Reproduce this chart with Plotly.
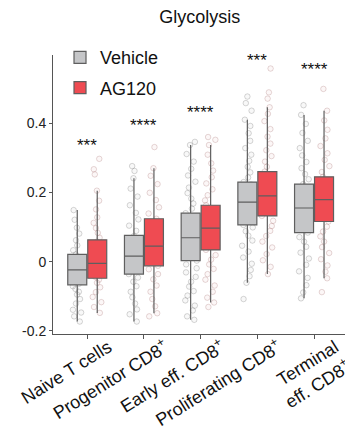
import plotly.graph_objects as go

categories = ["Naive T cells", "Progenitor CD8<sup>+</sup>", "Early eff. CD8<sup>+</sup>",
              "Proliferating CD8<sup>+</sup>", "Terminal<br>eff. CD8<sup>+</sup>"]
series_names = ["Vehicle", "AG120"]

# box statistics
veh_q1 = [-0.067, -0.036, 0.003, 0.106, 0.084]
veh_median = [-0.024, 0.016, 0.069, 0.172, 0.155]
veh_q3 = [0.021, 0.076, 0.140, 0.230, 0.224]
veh_low = [-0.173, -0.173, -0.168, -0.061, -0.106]
veh_high = [0.149, 0.241, 0.337, 0.410, 0.424]

ag_q1 = [-0.048, -0.012, 0.034, 0.132, 0.116]
ag_median = [-0.005, 0.045, 0.097, 0.190, 0.179]
ag_q3 = [0.063, 0.124, 0.163, 0.260, 0.245]
ag_low = [-0.148, -0.149, -0.118, -0.036, -0.048]
ag_high = [0.205, 0.270, 0.337, 0.446, 0.436]

# individual cells
naive_veh_pts = [-0.173, -0.158, -0.147, -0.139, -0.121, -0.108, -0.095, -0.087, -0.079, -0.071,
                 -0.064, -0.058, -0.049, -0.041, -0.035, -0.028, -0.022, -0.016, -0.009, -0.002,
                 0.006, 0.014, 0.021, 0.033, 0.047, 0.062, 0.081, 0.098, 0.121, 0.149]
naive_ag_pts = [-0.148, -0.131, -0.117, -0.102, -0.088, -0.074, -0.061, -0.052, -0.044, -0.036,
                -0.027, -0.018, -0.011, -0.004, 0.004, 0.013, 0.024, 0.035, 0.046, 0.058,
                0.069, 0.083, 0.097, 0.112, 0.128, 0.151, 0.176, 0.205, 0.252, 0.267, 0.297]
prog_veh_pts = [-0.173, -0.152, -0.138, -0.121, -0.103, -0.087, -0.071, -0.058, -0.046, -0.036,
                -0.027, -0.015, -0.004, 0.005, 0.012, 0.019, 0.028, 0.039, 0.051, 0.063,
                0.074, 0.089, 0.104, 0.122, 0.141, 0.163, 0.188, 0.211, 0.241, 0.262, 0.276]
prog_ag_pts = [-0.158, -0.149, -0.129, -0.108, -0.087, -0.069, -0.051, -0.036, -0.022, -0.012,
               -0.001, 0.011, 0.024, 0.036, 0.045, 0.056, 0.071, 0.086, 0.101, 0.114,
               0.124, 0.139, 0.157, 0.178, 0.199, 0.224, 0.248, 0.270, 0.331]
early_veh_pts = [-0.168, -0.158, -0.141, -0.127, -0.112, -0.098, -0.085, -0.072, -0.058, -0.044,
                 -0.031, -0.019, -0.008, 0.003, 0.014, 0.026, 0.038, 0.049, 0.058, 0.066,
                 0.073, 0.082, 0.093, 0.105, 0.117, 0.129, 0.140, 0.153, 0.168, 0.182,
                 0.198, 0.214, 0.231, 0.249, 0.268, 0.289, 0.311, 0.337, 0.346]
early_ag_pts = [-0.131, -0.118, -0.104, -0.087, -0.069, -0.052, -0.036, -0.021, -0.008, 0.006,
                0.019, 0.034, 0.046, 0.058, 0.071, 0.083, 0.091, 0.097, 0.106, 0.118,
                0.131, 0.143, 0.154, 0.163, 0.177, 0.192, 0.209, 0.226, 0.244, 0.263,
                0.284, 0.309, 0.337, 0.352, 0.360]
prolif_veh_pts = [-0.108, -0.061, -0.042, -0.024, -0.006, 0.012, 0.029, 0.046, 0.061, 0.075,
                  0.088, 0.099, 0.106, 0.118, 0.131, 0.143, 0.154, 0.163, 0.172, 0.181,
                  0.192, 0.203, 0.214, 0.223, 0.230, 0.243, 0.258, 0.274, 0.291, 0.309,
                  0.328, 0.349, 0.371, 0.392, 0.410, 0.436, 0.458, 0.477]
prolif_ag_pts = [-0.036, -0.015, 0.004, 0.022, 0.041, 0.058, 0.074, 0.089, 0.103, 0.118,
                 0.132, 0.144, 0.156, 0.167, 0.179, 0.190, 0.201, 0.213, 0.226, 0.239,
                 0.251, 0.260, 0.274, 0.289, 0.305, 0.322, 0.341, 0.361, 0.383, 0.406,
                 0.427, 0.446, 0.471, 0.489, 0.558]
term_veh_pts = [-0.106, -0.089, -0.068, -0.047, -0.028, -0.009, 0.009, 0.026, 0.043, 0.058,
                0.071, 0.084, 0.097, 0.111, 0.124, 0.136, 0.147, 0.155, 0.164, 0.176,
                0.189, 0.201, 0.213, 0.224, 0.238, 0.253, 0.270, 0.288, 0.307, 0.328,
                0.349, 0.372, 0.398, 0.424, 0.452]
term_ag_pts = [-0.088, -0.048, -0.029, -0.011, 0.007, 0.025, 0.042, 0.058, 0.073, 0.087,
               0.101, 0.116, 0.128, 0.141, 0.153, 0.166, 0.179, 0.190, 0.203, 0.216,
               0.229, 0.245, 0.259, 0.276, 0.294, 0.313, 0.334, 0.356, 0.381, 0.408,
               0.436, 0.499]

sig_labels = ["***", "****", "****", "***", "****"]
sig_y = [0.337, 0.392, 0.430, 0.580, 0.554]

veh_points = [naive_veh_pts, prog_veh_pts, early_veh_pts, prolif_veh_pts, term_veh_pts]
ag_points = [naive_ag_pts, prog_ag_pts, early_ag_pts, prolif_ag_pts, term_ag_pts]

FONT = "Liberation Sans, Arial, Helvetica, sans-serif"
fig = go.Figure()


def pts_trace(groups, group_id, line_col, fill_col):
    xs, ys = [], []
    for cat, vals in zip(categories, groups):
        xs += [cat] * len(vals)
        ys += vals
    return go.Box(x=xs, y=ys, offsetgroup=group_id, boxpoints="all", jitter=0.7, pointpos=0,
                  line=dict(width=0), fillcolor="rgba(0,0,0,0)", whiskerwidth=0,
                  marker=dict(symbol="circle", size=5.5, color=fill_col,
                              line=dict(color=line_col, width=1)),
                  showlegend=False, hoverinfo="y")


fig.add_trace(pts_trace(veh_points, "veh", "rgba(95,95,95,0.26)", "rgba(200,200,200,0.12)"))
fig.add_trace(pts_trace(ag_points, "ag", "rgba(160,100,100,0.26)", "rgba(230,190,190,0.12)"))

fig.add_trace(go.Box(name=series_names[0], x=categories, q1=veh_q1, median=veh_median, q3=veh_q3,
                     lowerfence=veh_low, upperfence=veh_high, offsetgroup="veh",
                     legendgroup="veh", boxpoints=False, whiskerwidth=0,
                     fillcolor="#c5c6c8", line=dict(color="#5f5f5f", width=1.2)))
fig.add_trace(go.Box(name=series_names[1], x=categories, q1=ag_q1, median=ag_median, q3=ag_q3,
                     lowerfence=ag_low, upperfence=ag_high, offsetgroup="ag",
                     legendgroup="ag", boxpoints=False, whiskerwidth=0,
                     fillcolor="#ef4b52", line=dict(color="#5f5f5f", width=1.2)))

for cat, lab, yv in zip(categories, sig_labels, sig_y):
    fig.add_annotation(x=cat, y=yv, text=lab, showarrow=False,
                       font=dict(family=FONT, size=17, color="#111"))

fig.update_layout(
    width=345, height=437,
    margin=dict(l=53, r=0, t=55, b=103),
    paper_bgcolor="white", plot_bgcolor="white",
    boxmode="group", boxgap=0.295, boxgroupgap=0.05,
    title=dict(text="Glycolysis", x=0.503, xref="paper", y=1 - 17 / 437, yref="container",
               xanchor="center", yanchor="middle",
               font=dict(family=FONT, size=18, color="#111")),
    font=dict(family=FONT, color="#111"),
    legend=dict(x=0.024, y=1.057, xanchor="left", yanchor="top", traceorder="grouped",
                tracegroupgap=4, font=dict(family=FONT, size=18, color="#111"),
                bgcolor="rgba(0,0,0,0)"),
    xaxis=dict(type="category", categoryorder="array", categoryarray=categories,
               range=[-0.604, 4.546], showline=True, linecolor="#555", linewidth=1,
               ticks="outside", ticklen=4, tickcolor="#555", tickangle=-32,
               tickfont=dict(family=FONT, size=18, color="#111"), showgrid=False,
               ticklabelshift=21, ticklabelstandoff=-9, automargin=False),
    yaxis=dict(range=[-0.209, 0.597], showline=True, linecolor="#555", linewidth=1,
               ticks="outside", ticklen=3, tickcolor="#555", showgrid=False, zeroline=False,
               tickvals=[-0.2, 0, 0.2, 0.4], ticktext=["-0.2", "0", "0.2", "0.4"],
               tickfont=dict(family=FONT, size=14, color="#222"), automargin=False),
)

fig.write_html("out.html", config={"displayModeBar": False},
               post_script="document.body.style.margin='0';")
